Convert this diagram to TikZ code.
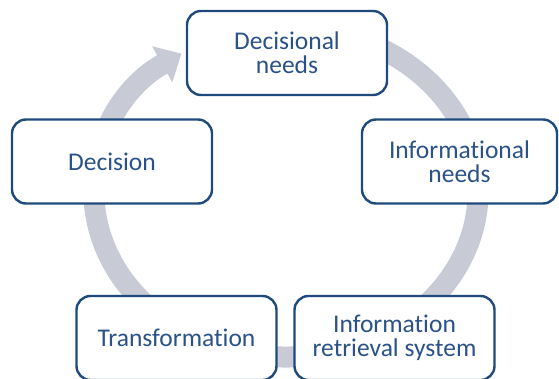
\documentclass[tikz,border=0pt]{standalone}
\usepackage{fontspec}
\setmainfont{Carlito}[Ligatures={NoCommon}]
\usetikzlibrary{arrows.meta}
\definecolor{boxblue}{RGB}{31,74,124}
\definecolor{txtblue}{RGB}{42,82,137}
\definecolor{ringgray}{RGB}{200,203,213}
\tikzset{
  stage/.style={draw=boxblue, line width=2.4pt, fill=white, rounded corners=14pt,
    minimum width=200pt, minimum height=84pt, align=center, text=txtblue,
    font=\fontsize{25.5pt}{24pt}\selectfont},
  ring/.style={draw=ringgray, line width=21pt, -{Triangle[width=40pt,length=22pt]}}
}
\begin{document}
\begin{tikzpicture}[x=1pt, y=-1pt, line join=round]
		\def\cx{286} \def\cy{192}
		\useasboundingbox (0,0) rectangle (559,379);
		\clip (0,0) rectangle (559,379);
		% cycle arrow behind the boxes
		\coordinate (hub) at (\cx,\cy);
		\draw[ring] (hub) ++(255:192 and 165)
		  arc[start angle=255, end angle=597, x radius=192, y radius=165];
		% the five stages
		\node[stage] (decneeds) at (287,53) {Decisional\\needs};
		\node[stage, minimum width=195pt] (infneeds) at (459.5,161.5) {Informational\\needs};
		\node[stage] (irsys) at (394.5,338) {Information\\retrieval system};
		\node[stage] (transf) at (176.5,338) {Transformation};
		\node[stage] (decision) at (112,161.5) {Decision};
\end{tikzpicture}
\end{document}
